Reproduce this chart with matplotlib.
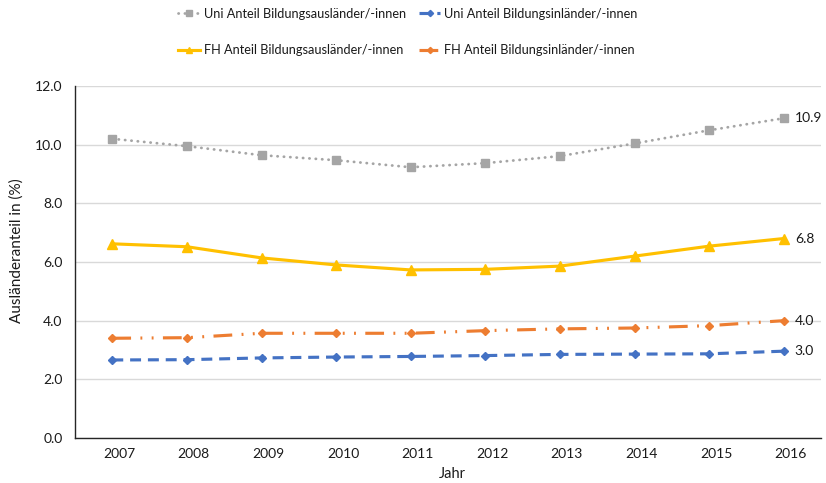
import matplotlib
matplotlib.use("Agg")
import matplotlib.pyplot as plt
import matplotlib.transforms as mtransforms

years = ["2007", "2008", "2009", "2010", "2011", "2012", "2013", "2014", "2015", "2016"]
uni_aus = [10.2, 9.95, 9.64, 9.47, 9.23, 9.37, 9.61, 10.04, 10.49, 10.9]
uni_inl = [2.66, 2.67, 2.73, 2.76, 2.78, 2.81, 2.85, 2.86, 2.87, 2.96]
fh_aus = [6.62, 6.52, 6.14, 5.9, 5.73, 5.75, 5.86, 6.2, 6.54, 6.8]
fh_inl = [3.40, 3.42, 3.57, 3.57, 3.57, 3.66, 3.72, 3.75, 3.83, 4.0]
yticks = [0, 2, 4, 6, 8, 10, 12]

labels = ["Uni Anteil Bildungsausländer/-innen", "Uni Anteil Bildungsinländer/-innen",
          "FH Anteil Bildungsausländer/-innen", "FH Anteil Bildungsinländer/-innen"]

plt.rcParams['font.family'] = ['Lato', 'DejaVu Sans']
txt = '#1a1a1a'

fig = plt.figure(figsize=(8.26, 4.83), dpi=100)
ax = fig.add_axes([75/826, 1-438/483, (821-75)/826, (438-86)/483])

x = list(range(len(years)))
gray, blue, yellow, orange = '#A5A5A5', '#4472C4', '#FFC000', '#ED7D31'

l1, = ax.plot(x, uni_aus, color=gray, lw=2.0, linestyle=(0, (0.1, 2.2)),
              dash_capstyle='round', marker='s', markersize=6, label=labels[0], zorder=3)
l2, = ax.plot(x, uni_inl, color=blue, lw=2.25, linestyle=(0, (3.5, 2.2)),
              marker='D', markersize=4.5, label=labels[1], zorder=3)
l3, = ax.plot(x, fh_aus, color=yellow, lw=2.25, linestyle='-',
              marker='^', markersize=6.5, label=labels[2], zorder=3)
l4, = ax.plot(x, fh_inl, color=orange, lw=2.25, linestyle=(0, (6, 3, 0.6, 3, 0.6, 3)),
              marker='D', markersize=4.5, label=labels[3], zorder=3)

for series in (uni_aus, fh_aus, fh_inl, uni_inl):
    ax.annotate(f"{series[-1]:.1f}", xy=(x[-1], series[-1]), xytext=(8, 0),
                textcoords='offset points', va='center', ha='left', fontsize=10, color=txt)

ax.set_xlim(-0.5, len(years) - 0.5)
ax.set_ylim(0, 12)
ax.set_yticks(yticks)
ax.set_yticklabels([f"{v:.1f}" for v in yticks])
ax.set_xticks(x)
ax.set_xticklabels(years)
ax.tick_params(axis='both', length=0, labelsize=10, labelcolor=txt)
ax.tick_params(axis='y', pad=9)
ax.tick_params(axis='x', pad=7)
offset = mtransforms.ScaledTranslation(5/72, 0, fig.dpi_scale_trans)
for lab in ax.get_xticklabels():
    lab.set_transform(lab.get_transform() + offset)

ax.grid(axis='y', color='#D9D9D9', lw=1.0)
ax.set_axisbelow(True)
for s in ('top', 'right'):
    ax.spines[s].set_visible(False)
ax.spines['left'].set_color('#262626')
ax.spines['bottom'].set_color('#262626')
ax.spines['left'].set_linewidth(1.0)
ax.spines['bottom'].set_linewidth(1.0)

ax.set_ylabel("Ausländeranteil in (%)", fontsize=11, color=txt)
ax.yaxis.set_label_coords((24 - 75) / 746, (438 - 251) / 352)
ax.set_xlabel("Jahr", fontsize=10.5, color=txt)
ax.xaxis.set_label_coords((452 - 75) / 746, -0.083)

leg = fig.legend([l1, l3, l2, l4], [labels[0], labels[2], labels[1], labels[3]],
                 ncol=2, loc='center', bbox_to_anchor=(408/826, 1-32/483),
                 frameon=False, fontsize=9.2, handlelength=1.7, handletextpad=0.3,
                 columnspacing=1.0, labelspacing=1.9, markerscale=0.7)
for t in leg.get_texts():
    t.set_color(txt)

fig.savefig("out.png", dpi=100)
